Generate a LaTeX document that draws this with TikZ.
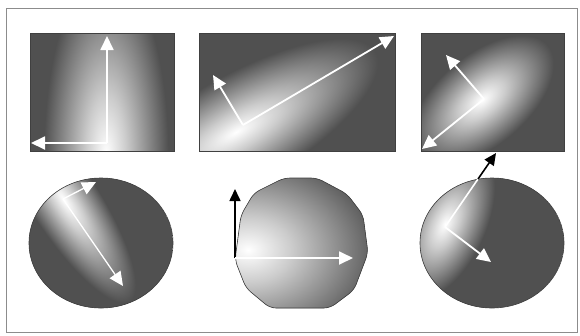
\documentclass[tikz,border=0pt]{standalone}
\usetikzlibrary{arrows.meta}
\definecolor{dk}{RGB}{80,80,80}
\pgfdeclareradialshading{glow}{\pgfpointorigin}{rgb(0bp)=(1,1,1); rgb(8bp)=(0.8,0.8,0.8); rgb(25bp)=(0.314,0.314,0.314); rgb(50bp)=(0.314,0.314,0.314)}
\newcommand{\gluehen}[5]{% 光の中心x, y, 角度, 長さ, 幅
	\begin{scope}[shift={(#1,#2)}, rotate=#3, xscale=#4/25, yscale=#5/25]
		\pgflowlevelsynccm\pgfuseshading{glow}
	\end{scope}}
\tikzset{
	wpfeil/.style={draw=white, line width=1.8pt, -{Triangle[length=14pt, width=13pt]}},
	spfeil/.style={draw=black, line width=1.6pt, -{Triangle[length=12pt, width=11pt]}},
	flaeche/.style={draw=black!75, line width=0.6pt},
}
\begin{document}
\begin{tikzpicture}[x=1pt, y=-1pt]
	\useasboundingbox (0, 0) rectangle (580, 335);
	\fill[white] (0, 0) rectangle (580, 335);
	\draw[black!45, line width=1pt] (6, 8) rectangle (577, 332); %外枠
%	上の段
	\begin{scope}
		\clip (30, 33) rectangle (174, 151);
		\fill[dk] (30, 33) rectangle (174, 151);
		\gluehen{106}{155}{0}{62}{185} %縦の帯
	\end{scope}
	\draw[flaeche] (30, 33) rectangle (174, 151);
	\begin{scope}
		\clip (199, 33) rectangle (395, 151);
		\fill[dk] (199, 33) rectangle (395, 151);
		\gluehen{236}{132}{30}{160}{55} %斜めの帯
	\end{scope}
	\draw[flaeche] (199, 33) rectangle (395, 151);
	\begin{scope}
		\clip (421, 33) rectangle (564, 151);
		\fill[dk] (421, 33) rectangle (564, 151);
		\gluehen{482}{100}{40}{85}{45} %楕円の光
	\end{scope}
	\draw[flaeche] (421, 33) rectangle (564, 151);
%	下の段
	\begin{scope}
		\clip (101, 243) ellipse [x radius=72, y radius=65];
		\fill[dk] (101, 243) ellipse [x radius=72, y radius=65];
		\gluehen{64}{200}{-57}{120}{34}
	\end{scope}
	\draw[flaeche] (101, 243) ellipse [x radius=72, y radius=65];
	\begin{scope}[rounded corners=6pt]
		\path[save path=\vieleck] (235, 260)-- (241, 215)-- (254, 193)-- (284, 178)-- (317, 178)-- (347, 194)-- (363, 215)-- (368, 253)-- (354, 290)-- (330, 308)-- (270, 308)-- (246, 288)-- cycle; %七角形くらい
		\clip[use path=\vieleck];
		\fill[dk] (220, 170) rectangle (380, 315);
		\gluehen{248}{250}{0}{135}{100}
	\end{scope}
	\draw[flaeche, use path=\vieleck];
	\begin{scope}
		\clip (492, 243) ellipse [x radius=72, y radius=65];
		\fill[dk] (492, 243) ellipse [x radius=72, y radius=65];
		\gluehen{445}{224}{65}{80}{40}
	\end{scope}
	\draw[flaeche] (492, 243) ellipse [x radius=72, y radius=65];
%	矢印
	\coordinate (a0) at (107, 143);
	\coordinate (a1) at (107, 36);
	\coordinate (a2) at (31, 143);
	\draw[wpfeil] (a0)-- (a1);
	\draw[wpfeil] (a0)-- (a2);
	\coordinate (b0) at (243, 125);
	\coordinate (b1) at (394, 36);
	\coordinate (b2) at (213, 75);
	\draw[wpfeil] (b0)-- (b1);
	\draw[wpfeil] (b0)-- (b2);
	\coordinate (c0) at (484, 99);
	\coordinate (c1) at (446, 55);
	\coordinate (c2) at (422, 149);
	\draw[wpfeil] (c0)-- (c1);
	\draw[wpfeil] (c0)-- (c2);
	\coordinate (d0) at (63, 199);
	\coordinate (d1) at (96, 182);
	\coordinate (d2) at (123, 286);
	\draw[wpfeil, line width=1.3pt] (d0)-- (d1);
	\draw[wpfeil, line width=1.3pt] (d0)-- (d2);
	\coordinate (e0) at (235, 258);
	\coordinate (e1) at (235, 189);
	\coordinate (e2) at (353, 258);
	\draw[spfeil] (e0)-- (e1);
	\draw[wpfeil] (e0)-- (e2);
	\coordinate (f0) at (445, 227);
	\coordinate (f1) at (491, 262);
	\coordinate (fr) at (478, 179); %円の縁
	\coordinate (f2) at (496, 153);
	\draw[wpfeil] (f0)-- (f1);
	\draw[white, line width=1.6pt] (f0)-- (fr);
	\draw[spfeil] (fr)-- (f2);
\end{tikzpicture}
\end{document}
